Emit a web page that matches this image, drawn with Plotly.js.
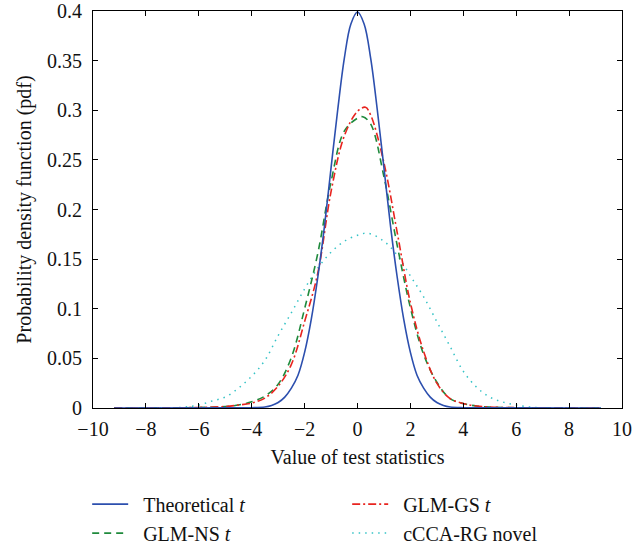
<!DOCTYPE html>
<html>
<head>
<meta charset="utf-8">
<script src="https://cdn.plot.ly/plotly-3.0.1.min.js"></script>
<style>html,body{margin:0;padding:0;background:#fff;}#chart{width:634px;height:546px;}</style>
</head>
<body>
<div id="chart"></div>
<script>
// Theoretical t
var theoX = [-9.2, -5, -4, -3.5, -3.25, -3, -2.75, -2.5, -2.25, -2, -1.75, -1.5, -1.25, -1, -0.75, -0.5, -0.25, 0, 0.25, 0.5, 0.75, 1, 1.25, 1.5, 1.75, 2, 2.25, 2.5, 2.75, 3, 3.25, 3.5, 4, 5, 9.2];
var theoY = [0, 0.0001, 0.0003, 0.001, 0.0025, 0.0055, 0.011, 0.020, 0.033, 0.056, 0.089, 0.132, 0.183, 0.242, 0.300, 0.352, 0.387, 0.399, 0.387, 0.352, 0.300, 0.242, 0.183, 0.132, 0.089, 0.056, 0.033, 0.020, 0.011, 0.0055, 0.0025, 0.001, 0.0003, 0.0001, 0];
// GLM-NS t
var nsX = [-9.2, -6, -5, -4.5, -4, -3.5, -3, -2.5, -2, -1.5, -1, -0.5, 0, 0.2, 0.5, 1, 1.5, 2, 2.5, 3, 3.5, 4, 4.5, 5, 6, 9.2];
var nsY = [0, 0.0005, 0.0015, 0.003, 0.0062, 0.012, 0.024, 0.051, 0.100, 0.156, 0.228, 0.279, 0.292, 0.2935, 0.286, 0.233, 0.164, 0.101, 0.054, 0.026, 0.0095, 0.0045, 0.002, 0.001, 0.0003, 0];
// GLM-GS t
var gsX = [-9.2, -6, -5, -4.5, -4, -3.5, -3, -2.5, -2, -1.5, -1, -0.5, 0, 0.3, 0.5, 1, 1.5, 2, 2.5, 3, 3.5, 4, 4.5, 5, 6, 9.2];
var gsY = [0, 0.0005, 0.0015, 0.003, 0.005, 0.010, 0.022, 0.044, 0.087, 0.136, 0.218, 0.274, 0.299, 0.303, 0.295, 0.247, 0.177, 0.106, 0.057, 0.025, 0.0095, 0.0045, 0.002, 0.001, 0.0003, 0];
// cCCA-RG novel
var ccaX = [-9.2, -7, -6.5, -6, -5.5, -5, -4.5, -4, -3.5, -3, -2.5, -2, -1.5, -1, -0.5, 0, 0.4, 1, 1.5, 2, 2.5, 3, 3.5, 4, 4.5, 5, 5.5, 6, 6.5, 7, 9.2];
var ccaY = [0, 0.0003, 0.001, 0.003, 0.007, 0.011, 0.020, 0.032, 0.048, 0.073, 0.096, 0.120, 0.141, 0.157, 0.168, 0.174, 0.176, 0.168, 0.154, 0.133, 0.112, 0.087, 0.062, 0.037, 0.021, 0.011, 0.006, 0.003, 0.001, 0.0003, 0];

var names = ['Theoretical <i>t</i>', 'GLM-NS <i>t</i>', 'GLM-GS <i>t</i>', 'cCCA-RG novel'];
var xTickVals = [-10, -8, -6, -4, -2, 0, 2, 4, 6, 8, 10];
var yTickVals = [0, 0.05, 0.1, 0.15, 0.2, 0.25, 0.3, 0.35, 0.4];
var yTickText = ['0', '0.05', '0.1', '0.15', '0.2', '0.25', '0.3', '0.35', '0.4'];

var FONT = "'Liberation Serif', 'Times New Roman', serif";
var PAD = '\u00a0\u00a0';

var traces = [
  {x: ccaX, y: ccaY, name: PAD + names[3], legendrank: 4, mode: 'lines', line: {color: '#35c3c6', width: 1.5, dash: '1.5px,5px', shape: 'spline'}},
  {x: nsX, y: nsY, name: PAD + names[1], legendrank: 3, mode: 'lines', line: {color: '#1f8a3c', width: 1.6, dash: '7px,5px', shape: 'spline'}},
  {x: gsX, y: gsY, name: PAD + names[2], legendrank: 2, mode: 'lines', line: {color: '#e8241f', width: 1.6, dash: '8px,3px,2px,3px', shape: 'spline'}},
  {x: theoX, y: theoY, name: PAD + names[0], legendrank: 1, mode: 'lines', line: {color: '#2c4fae', width: 1.6, shape: 'spline'}}
];

var layout = {
  width: 634, height: 546,
  margin: {l: 93, r: 12, t: 11, b: 138, autoexpand: false},
  paper_bgcolor: '#fff', plot_bgcolor: '#fff',
  font: {family: FONT, size: 20, color: '#111'},
  showlegend: true,
  legend: {
    orientation: 'h', x: -0.011, xanchor: 'left', y: -0.193, yanchor: 'top',
    entrywidth: 209, entrywidthmode: 'pixels', itemwidth: 36,
    font: {family: FONT, size: 20, color: '#111'}, bgcolor: 'rgba(0,0,0,0)'
  },
  xaxis: {
    range: [-10, 10], tickvals: xTickVals, ticks: 'inside', ticklen: 5, tickcolor: '#000',
    showline: true, linecolor: '#000', linewidth: 1, mirror: 'ticks',
    showgrid: false, zeroline: false, ticklabelstandoff: 3,
    title: {text: 'Value of test statistics', font: {family: FONT, size: 20}, standoff: 10}
  },
  yaxis: {
    range: [0, 0.4], tickvals: yTickVals, ticktext: yTickText, ticks: 'inside', ticklen: 5, tickcolor: '#000',
    showline: true, linecolor: '#000', linewidth: 1, mirror: 'ticks',
    showgrid: false, zeroline: false, ticklabelstandoff: 6,
    title: {text: 'Probability density function (pdf)', font: {family: FONT, size: 20}, standoff: 10}
  }
};

Plotly.newPlot('chart', traces, layout, {staticPlot: true, displayModeBar: false});
</script>
</body>
</html>
